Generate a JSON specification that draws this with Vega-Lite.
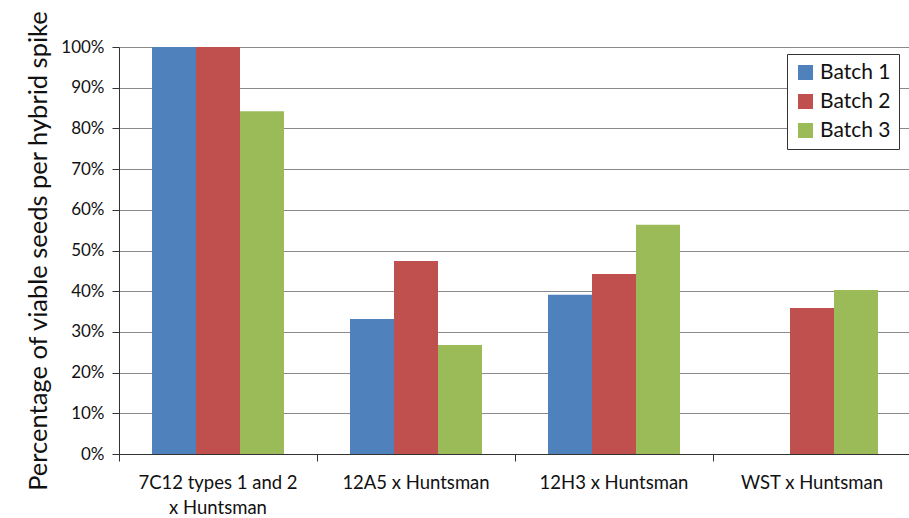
{
  "$schema": "https://vega.github.io/schema/vega-lite/v6.json",
  "width": 792,
  "height": 407,
  "autosize": {"type": "none"},
  "padding": {"left": 119, "top": 47, "right": 0, "bottom": 64},
  "background": "white",
  "config": {"view": {"stroke": null}, "font": "Lato"},
  "data": {"values": [
    {"cross": "7C12 types 1 and 2 x Huntsman", "batch": "Batch 1", "value": 1.0},
    {"cross": "7C12 types 1 and 2 x Huntsman", "batch": "Batch 2", "value": 1.0},
    {"cross": "7C12 types 1 and 2 x Huntsman", "batch": "Batch 3", "value": 0.842},
    {"cross": "12A5 x Huntsman", "batch": "Batch 1", "value": 0.332},
    {"cross": "12A5 x Huntsman", "batch": "Batch 2", "value": 0.474},
    {"cross": "12A5 x Huntsman", "batch": "Batch 3", "value": 0.268},
    {"cross": "12H3 x Huntsman", "batch": "Batch 1", "value": 0.391},
    {"cross": "12H3 x Huntsman", "batch": "Batch 2", "value": 0.442},
    {"cross": "12H3 x Huntsman", "batch": "Batch 3", "value": 0.563},
    {"cross": "WST x Huntsman", "batch": "Batch 2", "value": 0.359},
    {"cross": "WST x Huntsman", "batch": "Batch 3", "value": 0.403}
  ]},
  "layer": [
    {
      "mark": {"type": "bar"},
      "encoding": {
        "x": {
          "field": "cross", "type": "nominal", "sort": null,
          "scale": {"paddingInner": 0, "paddingOuter": 0},
          "axis": {
            "title": null, "labelAngle": 0, "ticks": false, "domain": true, "orient": "bottom",
            "domainColor": "#333333", "labelFontSize": 18.5, "labelColor": "#111111",
            "labelPadding": 19, "labelBaseline": "top",
            "labelExpr": "datum.label == '7C12 types 1 and 2 x Huntsman' ? ['7C12 types 1 and 2', 'x Huntsman'] : datum.label",
            "labelLineHeight": 25
          }
        },
        "xOffset": {
          "field": "batch", "type": "nominal",
          "scale": {"paddingInner": 0, "paddingOuter": 0.75}
        },
        "y": {
          "field": "value", "type": "quantitative",
          "scale": {"domain": [0, 1], "nice": false},
          "axis": {
            "title": "Percentage of viable seeds per hybrid spike",
            "format": ".0%", "values": [0,0.1,0.2,0.3,0.4,0.5,0.6,0.7,0.8,0.9,1.0],
            "gridColor": "#8a8a8a", "gridWidth": 1,
            "domainColor": "#333333", "tickColor": "#333333", "tickSize": 7,
            "labelFontSize": 17, "labelColor": "#111111", "labelPadding": 8,
            "titleFontSize": 25.5, "titleFontWeight": "normal", "titleColor": "#111111",
            "titlePadding": 9
          }
        },
        "color": {
          "field": "batch", "type": "nominal",
          "scale": {"domain": ["Batch 1", "Batch 2", "Batch 3"], "range": ["#4F81BD", "#C0504D", "#9BBB59"]},
          "legend": {
            "title": null, "orient": "none", "legendX": 668, "legendY": 7,
            "symbolType": "square", "symbolSize": 225, "symbolStrokeWidth": 0,
            "labelFontSize": 21, "labelColor": "#111111", "rowPadding": 7,
            "strokeColor": "#333333", "fillColor": "white", "padding": 8
          }
        }
      }
    },
    {
      "mark": {"type": "rule", "opacity": 0},
      "encoding": {
        "x": {
          "field": "cross", "type": "nominal", "sort": null,
          "axis": {"title": null, "orient": "bottom", "labels": false, "domain": false, "ticks": true, "bandPosition": 0, "tickColor": "#333333", "tickSize": 7, "grid": false}
        }
      }
    }
  ],
  "resolve": {"axis": {"x": "independent"}}
}
